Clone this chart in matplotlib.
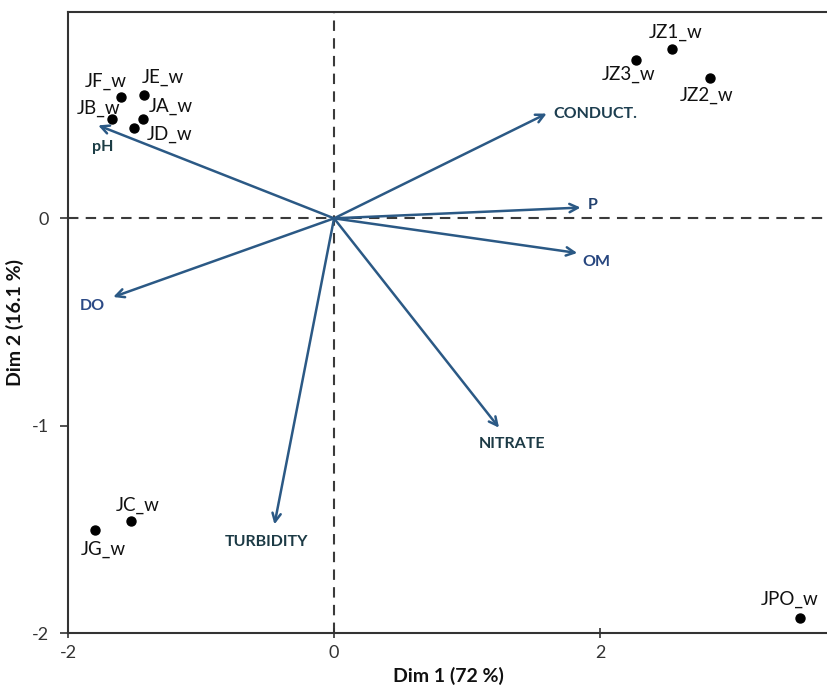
import numpy as np
import matplotlib
matplotlib.use('Agg')
import matplotlib.pyplot as plt

plt.rcParams['font.family'] = ['Lato', 'DejaVu Sans']
plt.rcParams['axes.unicode_minus'] = False

# individuals (samples)
samples = ['JF_w', 'JE_w', 'JB_w', 'JA_w', 'JD_w', 'JZ1_w', 'JZ3_w', 'JZ2_w', 'JC_w', 'JG_w', 'JPO_w']
dim1 = [-1.603, -1.431, -1.668, -1.435, -1.506, 2.541, 2.266, 2.828, -1.524, -1.794, 3.503]
dim2 = [0.585, 0.593, 0.479, 0.480, 0.437, 0.818, 0.765, 0.678, -1.460, -1.504, -1.924]

# variables (loadings)
variables = ['pH', 'CONDUCT.', 'P', 'OM', 'DO', 'TURBIDITY', 'NITRATE']
var_d1 = [-1.773, 1.598, 1.853, 1.828, -1.660, -0.448, 1.240]
var_d2 = [0.448, 0.505, 0.052, -0.167, -0.379, -1.475, -1.009]

# label placement (offset points, alignment)
sample_off = [(-11, 11), (14, 13), (-10, 7.5), (20, 9), (26, -4.5), (2.5, 12),
              (-5, -10.5), (-2.5, -12.5), (4.5, 11.5), (5.5, -13.5), (-7.5, 13)]
var_off = [(3.5, -15.5, 'center'), (5, 0, 'left'), (5, 1.5, 'left'), (4, -6.5, 'left'),
           (-15, -6.5, 'center'), (-6, -12.5, 'center'), (9.5, -12, 'center')]
var_col = ['#1c3d45', '#1c3d4f', '#22416e', '#27467f', '#2c4a86', '#1c3a45', '#1c3a45']

fig = plt.figure(figsize=(8.28, 6.91), dpi=100)
ax = fig.add_axes([68 / 828, 57.7 / 691, 760 / 828, 621.6 / 691])
ax.set_xlim(-2, 3.713)
ax.set_ylim(-2, 0.996)

ax.axhline(0, color='#3a3a3a', lw=1.5, ls=(0, (5, 3.5)), zorder=1)
ax.axvline(0, color='#3a3a3a', lw=1.5, ls=(0, (5, 3.5)), zorder=1)

for name, vx, vy, (ox, oy, ha), c in zip(variables, var_d1, var_d2, var_off, var_col):
    ax.annotate('', xy=(vx, vy), xytext=(0, 0),
                arrowprops=dict(arrowstyle='->', color='#2b5985', lw=1.8,
                                mutation_scale=15, shrinkA=0, shrinkB=0), zorder=2)
    ax.annotate(name, xy=(vx, vy), xytext=(ox, oy), textcoords='offset points',
                ha=ha, va='center', fontsize=11.5, fontweight='bold', color=c)

ax.scatter(dim1, dim2, s=42, color='black', zorder=3)
for name, x, y, (ox, oy) in zip(samples, dim1, dim2, sample_off):
    ax.annotate(name, xy=(x, y), xytext=(ox, oy), textcoords='offset points',
                ha='center', va='center', fontsize=13.5, color='#111111')

for side in ['left', 'bottom', 'top']:
    ax.spines[side].set_color('#333333')
    ax.spines[side].set_linewidth(1.5)
ax.spines['right'].set_visible(False)

ax.set_xticks([-2, 0, 2])
ax.set_yticks([-2, -1, 0])
ax.tick_params(axis='x', direction='inout', length=7, width=1.2, colors='#333333',
               labelsize=13, pad=5)
ax.tick_params(axis='y', direction='out', length=6, width=1.2, colors='#333333',
               labelsize=13, pad=8)

ax.set_xlabel('Dim 1 (72 %)', fontsize=14, fontweight='bold', color='#111111', labelpad=4)
ax.set_ylabel('Dim 2 (16.1 %)', fontsize=14, fontweight='bold', color='#111111')
ax.yaxis.set_label_coords(-0.058, 0.5)

fig.savefig('out.png', dpi=100)
